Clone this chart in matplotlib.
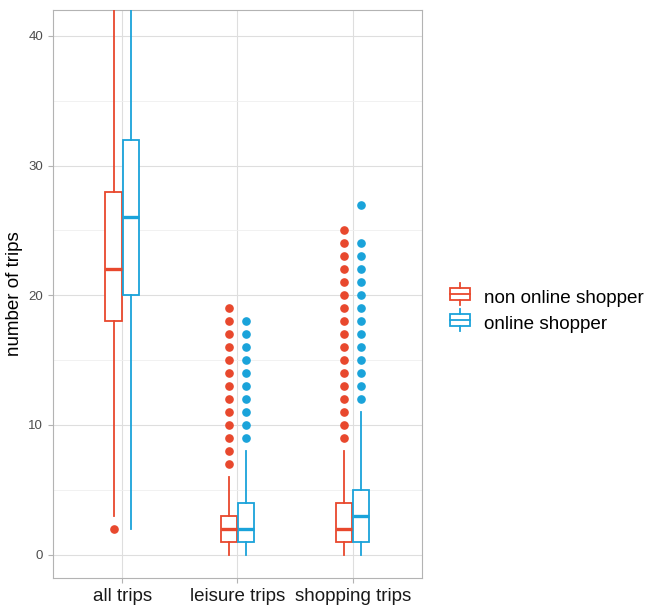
import numpy as np
import matplotlib.pyplot as plt
from matplotlib.legend_handler import HandlerBase
from matplotlib.patches import Rectangle
from matplotlib.lines import Line2D

plt.rcParams['font.family'] = ['Liberation Sans', 'DejaVu Sans']

categories = ["all trips", "leisure trips", "shopping trips"]
groups = ["non online shopper", "online shopper"]
colors = ["#E8482D", "#1AA3DA"]

# per group: [q1, median, q3, whisker low, whisker high] for each category
non_online = [
    [18, 22, 28, 3, 43],
    [1, 2, 3, 0, 6],
    [1, 2, 4, 0, 8],
]
online = [
    [20, 26, 32, 2, 50],
    [1, 2, 4, 0, 8],
    [1, 3, 5, 0, 11],
]
non_online_fliers = [
    [2],
    list(range(7, 20)),
    list(range(9, 26)),
]
online_fliers = [
    [],
    list(range(9, 19)),
    list(range(12, 25)) + [27],
]


class BoxHandler(HandlerBase):
    def create_artists(self, legend, orig, xd, yd, width, height, fontsize, trans):
        c = orig.get_color()
        cx = xd + width / 2
        bw = width * 0.95
        rect = Rectangle((cx - bw / 2, yd + height * 0.1), bw, height * 0.8,
                         facecolor="white", edgecolor=c, lw=1.3, transform=trans)
        med = Line2D([cx - bw / 2, cx + bw / 2], [yd + height / 2] * 2, color=c, lw=1.3, transform=trans)
        top = Line2D([cx, cx], [yd + height * 0.9, yd + height * 1.2], color=c, lw=1.3, transform=trans)
        bot = Line2D([cx, cx], [yd - height * 0.2, yd + height * 0.1], color=c, lw=1.3, transform=trans)
        return [rect, med, top, bot]


fig = plt.figure(figsize=(6.49, 6.06), dpi=100)
ax = fig.add_axes([0.0817, 0.0462, 0.5683, 0.9373])

offset = 0.075
box_w = 0.14
for gi, (data, fl) in enumerate([(non_online, non_online_fliers), (online, online_fliers)]):
    stats = []
    for q, f in zip(data, fl):
        stats.append(dict(q1=q[0], med=q[1], q3=q[2], whislo=q[3], whishi=q[4], fliers=f))
    pos = np.arange(1, 4) + (offset if gi == 1 else -offset)
    c = colors[gi]
    ax.bxp(stats, positions=pos, widths=box_w, showcaps=False, patch_artist=True,
           boxprops=dict(facecolor="white", edgecolor=c, lw=1.3),
           medianprops=dict(color=c, lw=2.4),
           whiskerprops=dict(color=c, lw=1.3),
           flierprops=dict(marker="o", markerfacecolor=c, markeredgecolor=c, markersize=5.2),
           manage_ticks=False, zorder=3)

ax.set_xlim(0.4, 3.6)
ax.set_ylim(-1.8, 42)
ax.set_xticks([1, 2, 3])
ax.set_xticklabels(categories, fontsize=13.5, color="#1A1A1A")
ax.set_yticks([0, 10, 20, 30, 40])
ax.set_yticks([5, 15, 25, 35], minor=True)
ax.tick_params(axis="y", labelsize=9.5, labelcolor="#4D4D4D", color="#B3B3B3", length=3.5)
ax.tick_params(axis="x", color="#B3B3B3", length=3.5, pad=4)
ax.tick_params(axis="y", which="minor", length=0)
ax.grid(True, which="major", color="#DEDEDE", lw=0.8)
ax.grid(True, which="minor", axis="y", color="#EFEFEF", lw=0.6)
ax.set_axisbelow(True)
for s in ax.spines.values():
    s.set_color("#B3B3B3")
ax.set_ylabel("number of trips", fontsize=13.5, labelpad=4)

handles = [Line2D([], [], color=c) for c in colors]
fig.legend(handles, groups, handler_map={Line2D: BoxHandler()}, loc="center left",
           bbox_to_anchor=(0.667, 0.487), frameon=False, fontsize=13.6,
           handlelength=1.07, handleheight=0.9, handletextpad=0.72, labelspacing=0.4)

fig.savefig("out.png", dpi=100)
